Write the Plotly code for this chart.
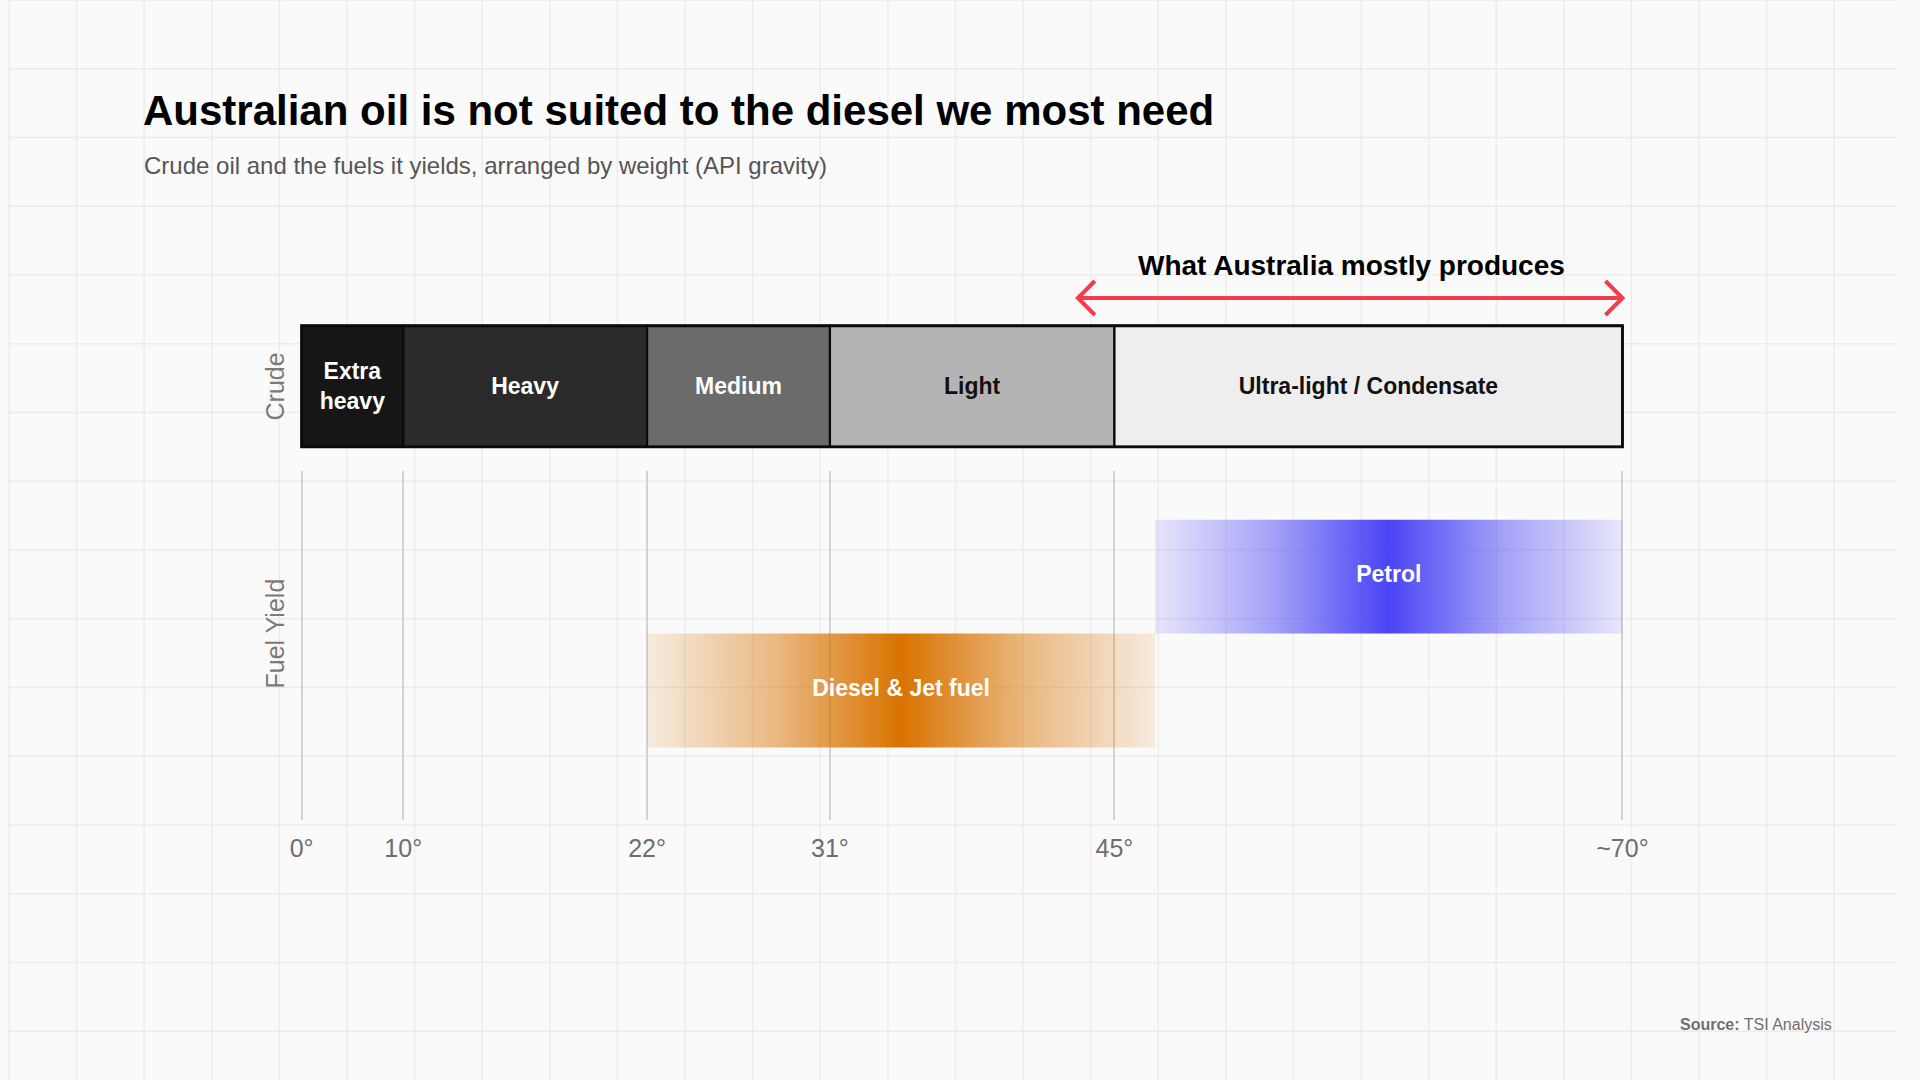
import plotly.graph_objects as go

# ---------------- data ----------------
crude_labels = ["Extra<br>heavy", "Heavy", "Medium", "Light", "Ultra-light / Condensate"]
crude_start = [0, 10, 22, 31, 45]
crude_end = [10, 22, 31, 45, 70]

fuel_labels = ["Petrol", "Diesel & Jet fuel"]
fuel_start = [47, 22]
fuel_end = [70, 47]

tick_values = [0, 10, 22, 31, 45, 70]
tick_labels = ["0°", "10°", "22°", "31°", "45°", "~70°"]

aus_range = [43.2, 70]  # span of the "What Australia mostly produces" arrow

# ---------------- style ----------------
W, H = 1920, 1080
FONT = "Liberation Sans"
crude_colors = ["#161616", "#2a2a2a", "#6b6b6b", "#b4b4b4", "#eeeeee"]
crude_text_colors = ["white", "white", "white", "#111111", "#111111"]
fuel_rgb = ["74,68,245", "217,115,0"]
ARROW = "#F23D4C"


def pos(d):
    """API gravity scale: 0-10 compressed, linear above."""
    return d / 2 if d <= 10 else d - 5


def px_x(x):
    return x / W


def px_y(y):
    return 1 - y / H


X_DOM = [px_x(294.5), px_x(1643.9)]
X_RANGE = [pos(0) - 0.15, pos(70) + 0.15]

fig = go.Figure()

# crude bar
fig.add_trace(go.Bar(
    orientation="h",
    y=[0] * len(crude_labels),
    base=[pos(s) for s in crude_start],
    x=[pos(e) - pos(s) for s, e in zip(crude_start, crude_end)],
    width=1,
    marker=dict(color=crude_colors, line=dict(color="#0a0a0a", width=2.2)),
    text=crude_labels,
    textposition="inside",
    insidetextanchor="middle",
    textangle=0,
    textfont=dict(family=FONT, size=23, color=crude_text_colors, weight="bold"),
    xaxis="x2", yaxis="y2",
    hoverinfo="skip", showlegend=False,
))

# fuel bars (gradient)
for i, (name, s, e) in enumerate(zip(fuel_labels, fuel_start, fuel_end)):
    rgb = fuel_rgb[i]
    cs = [[0, f"rgba({rgb},0.11)"], [0.25, f"rgba({rgb},0.48)"],
          [0.5, f"rgba({rgb},1)"], [0.75, f"rgba({rgb},0.48)"], [1, f"rgba({rgb},0.11)"]]
    x0, x1 = pos(s), pos(e)
    fig.add_trace(go.Scatter(
        x=[x0, x1, x1, x0, x0],
        y=[i - 0.5, i - 0.5, i + 0.5, i + 0.5, i - 0.5],
        mode="lines", line=dict(width=0),
        fill="toself",
        fillgradient=dict(type="horizontal", colorscale=cs),
        hoverinfo="skip", showlegend=False,
    ))
    fig.add_trace(go.Scatter(
        x=[(x0 + x1) / 2], y=[i], mode="text", text=[name],
        textfont=dict(family=FONT, size=23, color="white", weight="bold"),
        hoverinfo="skip", showlegend=False,
    ))

shapes = []
# background grid
step = 68.75
k = 0
while k * step <= W + 1:
    shapes.append(dict(type="line", xref="paper", yref="paper", x0=px_x(k * step), x1=px_x(k * step),
                       y0=0, y1=1, line=dict(color="#ececec", width=1.4), layer="below"))
    k += 1
k = 0
while k * step <= H + 1:
    shapes.append(dict(type="line", xref="paper", yref="paper", x0=0, x1=1,
                       y0=px_y(k * step), y1=px_y(k * step), line=dict(color="#ececec", width=1.4), layer="below"))
    k += 1

# outer border of crude bar
shapes.append(dict(type="rect", xref="x2", yref="y2", x0=pos(crude_start[0]), x1=pos(crude_end[-1]),
                   y0=-0.5, y1=0.5, line=dict(color="#0a0a0a", width=2.8), layer="above"))

# arrow
ay = px_y(298)
shapes.append(dict(type="line", xref="x2", yref="paper", x0=pos(aus_range[0]), x1=pos(aus_range[1]),
                   y0=ay, y1=ay, line=dict(color=ARROW, width=4)))
shapes.append(dict(type="path", xref="x2", yref="paper", xsizemode="pixel", ysizemode="pixel",
                   xanchor=pos(aus_range[0]), yanchor=ay, path="M 17,17 L 0,0 L 17,-17",
                   line=dict(color=ARROW, width=4)))
shapes.append(dict(type="path", xref="x2", yref="paper", xsizemode="pixel", ysizemode="pixel",
                   xanchor=pos(aus_range[1]), yanchor=ay, path="M -17,17 L 0,0 L -17,-17",
                   line=dict(color=ARROW, width=4)))

annotations = [
    dict(text="<b>Australian oil is not suited to the diesel we most need</b>", x=px_x(134), y=px_y(111),
         xref="paper", yref="paper", xanchor="left", yanchor="middle", showarrow=False,
         font=dict(family=FONT, size=42, color="#000000")),
    dict(text="Crude oil and the fuels it yields, arranged by weight (API gravity)", x=px_x(135), y=px_y(165),
         xref="paper", yref="paper", xanchor="left", yanchor="middle", showarrow=False,
         font=dict(family=FONT, size=24, color="#555555")),
    dict(text="<b>What Australia mostly produces</b>", x=px_x(1365), y=px_y(265),
         xref="paper", yref="paper", xanchor="center", yanchor="middle", showarrow=False,
         font=dict(family=FONT, size=28, color="#000000")),
    dict(text="Crude", x=px_x(270), y=px_y(387), xref="paper", yref="paper", textangle=-90,
         xanchor="center", yanchor="middle", showarrow=False,
         font=dict(family=FONT, size=25, color="#7a7a7a")),
    dict(text="Fuel Yield", x=px_x(270), y=px_y(634), xref="paper", yref="paper", textangle=-90,
         xanchor="center", yanchor="middle", showarrow=False,
         font=dict(family=FONT, size=25, color="#7a7a7a")),
    dict(text="<b>Source:</b> TSI Analysis", x=px_x(1856), y=px_y(1024), xref="paper", yref="paper",
         xanchor="right", yanchor="middle", showarrow=False,
         font=dict(family=FONT, size=16, color="#707070")),
]

fig.update_layout(
    width=W, height=H,
    margin=dict(l=0, r=0, t=0, b=0),
    paper_bgcolor="#fafafa", plot_bgcolor="rgba(0,0,0,0)",
    showlegend=False,
    shapes=shapes, annotations=annotations,
    xaxis=dict(domain=X_DOM, range=X_RANGE, anchor="y",
               tickvals=[pos(v) for v in tick_values], ticktext=tick_labels,
               showgrid=True, gridcolor="#d2d2d2", gridwidth=1.5,
               zeroline=True, zerolinecolor="#d2d2d2", zerolinewidth=1.5,
               showline=False, ticks="outside", ticklen=6, tickcolor="rgba(0,0,0,0)",
               tickfont=dict(family=FONT, size=25, color="#6e6e6e"), fixedrange=True),
    yaxis=dict(domain=[px_y(820), px_y(471)], range=[2.138, -0.929],
               showgrid=False, zeroline=False, showticklabels=False, showline=False, fixedrange=True),
    xaxis2=dict(domain=X_DOM, matches="x", anchor="y2", showgrid=False, zeroline=False,
                showticklabels=False, showline=False, fixedrange=True),
    yaxis2=dict(domain=[px_y(449.4), px_y(323.3)], range=[-0.52, 0.52], anchor="x2",
                showgrid=False, zeroline=False, showticklabels=False, showline=False, fixedrange=True),
)

fig.write_html(
    "out.html",
    config={"displayModeBar": False},
    post_script=(
        "document.documentElement.style.margin='0';"
        "document.documentElement.style.overflow='hidden';"
        "document.body.style.margin='0';"
        "document.body.style.overflow='hidden';"
    ),
)
